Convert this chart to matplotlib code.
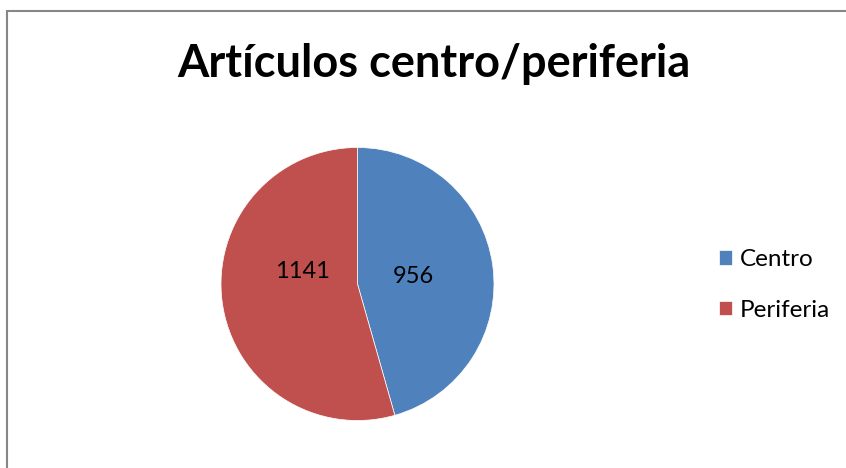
import matplotlib
matplotlib.use("Agg")
import matplotlib.pyplot as plt
from matplotlib.patches import Rectangle

categories = ["Centro", "Periferia"]
values = [956, 1141]
colors = ["#4F81BD", "#C0504D"]
title = "Artículos centro/periferia"

plt.rcParams["font.family"] = ["Lato", "DejaVu Sans"]

fig = plt.figure(figsize=(8.46, 4.68), dpi=100)
fig.patch.set_facecolor("white")

# chart border (clipped at right and bottom like the reference)
fig.add_artist(Rectangle((6.5 / 846, -0.1), 1.0, (468 - 11) / 468 + 0.1,
                         transform=fig.transFigure, fill=False,
                         edgecolor="#878787", linewidth=1.5))

ax = fig.add_axes([(357.5 - 136.5) / 846, (468 - 421) / 468, 273 / 846, 274 / 468])
wedges, _, autotexts = ax.pie(
    values, colors=colors, startangle=90, counterclock=False,
    autopct=lambda p: f"{round(p * sum(values) / 100):d}", pctdistance=0.41,
    wedgeprops=dict(linewidth=0.5, edgecolor="white"),
    textprops=dict(fontsize=17, color="black"),
)
# Excel puts the Periferia label a little above the centre line
x, y = autotexts[1].get_position()
autotexts[1].set_position((x, 0.095))
ax.set_xlim(-1, 1)
ax.set_ylim(-1, 1)
ax.set_aspect("equal")

fig.text(434 / 846, 1 - 77 / 468, title, ha="center", va="baseline",
         fontsize=32.5, fontweight="bold")

fig.legend(wedges, categories, loc="center left",
           bbox_to_anchor=(719 / 846, 1 - 285 / 468), frameon=False,
           fontsize=17.5, handlelength=0.55, handleheight=0.55,
           handletextpad=0.3, labelspacing=1.2, borderpad=0, borderaxespad=0)

fig.savefig("out.png", dpi=100)
